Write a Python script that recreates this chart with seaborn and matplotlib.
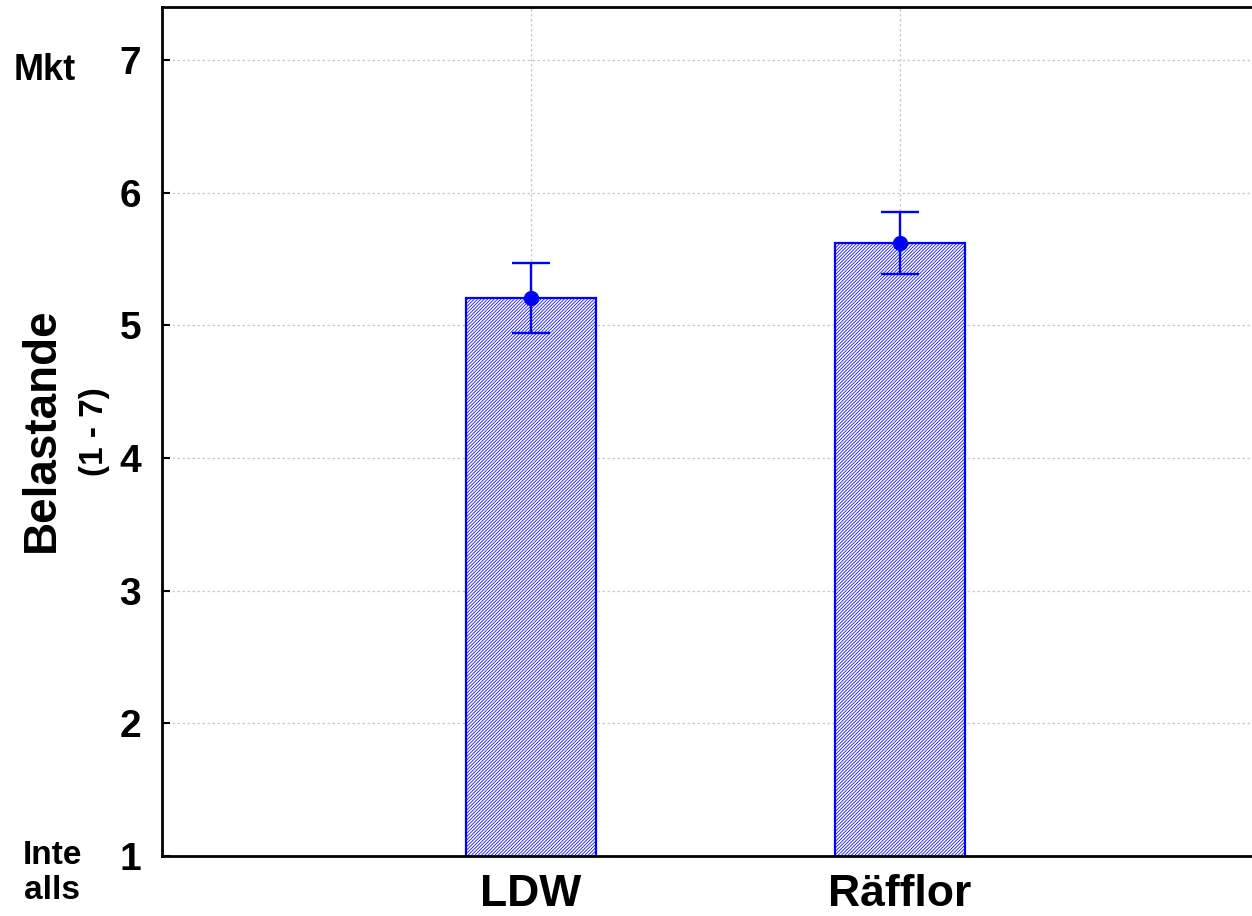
import matplotlib
matplotlib.use("Agg")
import matplotlib.pyplot as plt
import seaborn as sns
import pandas as pd
import numpy as np

categories = ["LDW", "Räfflor"]
means = [5.21, 5.62]
err_low = [0.27, 0.235]
err_high = [0.26, 0.235]
yticks = [1, 2, 3, 4, 5, 6, 7]

sns.set_theme(style="white", rc={"text.color": "black", "xtick.color": "black",
                                 "ytick.color": "black", "axes.labelcolor": "black"})
plt.rcParams['font.family'] = ['Liberation Sans', 'DejaVu Sans']
plt.rcParams['font.weight'] = 'bold'
plt.rcParams['hatch.linewidth'] = 0.55

fig = plt.figure(figsize=(12.52, 9.16), dpi=100)
ax = fig.add_axes([162/1252, 60/916, 1 - 162/1252, 849/916])

df = pd.DataFrame({"x": categories, "y": means})
sns.barplot(data=df, x="x", y="y", ax=ax, width=0.35, color="white",
            edgecolor="#0000ff", linewidth=1.6, errorbar=None, zorder=2)
for p in ax.patches:
    p.set_hatch("/" * 10)
    p.set_edgecolor("#0000ff")
    p.set_facecolor("white")

xs = np.arange(len(categories))
ax.errorbar(xs, means, yerr=[err_low, err_high], fmt="o", color="#0000ff",
            markersize=10, capsize=13.5, elinewidth=1.7, capthick=1.7, zorder=3)

ax.set_xlim(-1, -1 + 1090/369)
ax.set_ylim(1, 7.4)
ax.set_yticks(yticks)
ax.set_yticklabels([str(v) for v in yticks])
ax.set_xticks(xs)
ax.set_xticklabels(categories)
ax.set_xlabel("")
ax.set_ylabel("")

for lab in ax.get_yticklabels():
    lab.set_fontsize(28)
    lab.set_fontweight("bold")
    lab.set_color("black")
for lab in ax.get_xticklabels():
    lab.set_fontsize(32)
    lab.set_fontweight("bold")
    lab.set_color("black")

ax.tick_params(axis="y", direction="in", length=6, width=1.5, color="black", pad=15, left=True)
ax.tick_params(axis="x", direction="in", length=5, width=1.5, color="black", pad=13, bottom=True)

ax.grid(True, linestyle=(0, (2, 2)), color="#c8c8c8", linewidth=0.9, zorder=0)
ax.set_axisbelow(True)

for s in ["left", "bottom", "top"]:
    ax.spines[s].set_visible(True)
    ax.spines[s].set_color("black")
    ax.spines[s].set_linewidth(2)
ax.spines["right"].set_visible(False)

fig.text(42/1252, 1 - 430/916, "Belastande", rotation=90, fontsize=33,
         fontweight="bold", ha="center", va="center", color="black")
fig.text(94/1252, 1 - 432/916, "(1 - 7)", rotation=90, fontsize=24,
         fontweight="bold", ha="center", va="center", color="black")
fig.text(45/1252, 1 - 70/916, "Mkt", fontsize=26, fontweight="bold",
         ha="center", va="center", color="black")
fig.text(52/1252, 1 - 873/916, "Inte\nalls", fontsize=24, fontweight="bold",
         ha="center", va="center", linespacing=1.15, color="black")

fig.savefig("out.png", dpi=100)
